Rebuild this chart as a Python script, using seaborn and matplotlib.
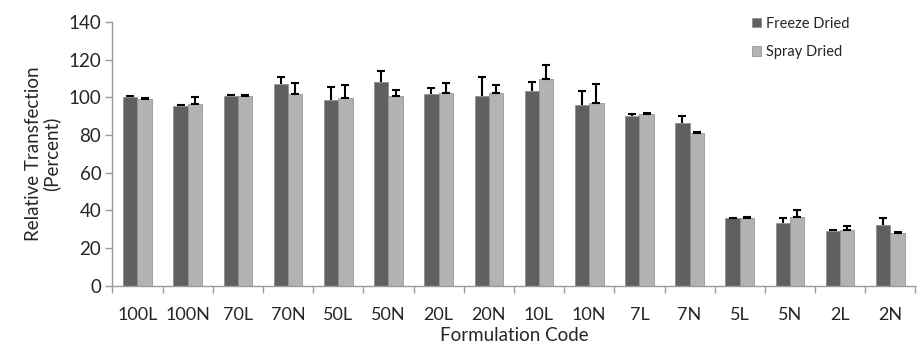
import numpy as np
import pandas as pd
import matplotlib
matplotlib.use("Agg")
import matplotlib.pyplot as plt
import seaborn as sns

# data
codes = ["100L", "100N", "70L", "70N", "50L", "50N", "20L", "20N",
         "10L", "10N", "7L", "7N", "5L", "5N", "2L", "2N"]
freeze = [100.0, 95.4, 100.9, 106.9, 98.4, 108.0, 101.8, 100.9,
          103.5, 95.8, 89.9, 86.2, 35.8, 33.5, 29.2, 32.4]
freeze_err = [0.9, 0.7, 0.2, 3.9, 7.1, 5.8, 3.3, 9.9,
              4.6, 7.6, 1.3, 3.9, 0.2, 2.6, 0.3, 3.4]
spray = [98.9, 96.3, 100.9, 101.9, 99.5, 100.5, 102.3, 102.1,
         109.6, 96.8, 91.3, 81.1, 35.9, 36.8, 29.6, 28.1]
spray_err = [0.5, 3.9, 0.5, 5.7, 6.9, 3.4, 5.5, 4.6,
             7.4, 10.1, 0.5, 0.3, 0.9, 3.2, 2.4, 0.6]
groups = ["Freeze Dried", "Spray Dried"]
colors = ["#606060", "#b3b3b3"]

sns.set_style("white")
plt.rcParams["font.family"] = ["Lato", "DejaVu Sans"]

df = pd.DataFrame({
    "code": codes * 2,
    "value": freeze + spray,
    "method": [groups[0]] * len(codes) + [groups[1]] * len(codes),
})

fig = plt.figure(figsize=(9.21, 3.47), dpi=100)
ax = fig.add_axes([0.122, 0.176, 0.872, 0.761])

sns.barplot(data=df, x="code", y="value", hue="method", palette=colors,
            errorbar=None, width=0.57, ax=ax, saturation=1,
            edgecolor="#8a8a8a", linewidth=0.5)

# error bars (plus direction only), placed on seaborn's bars
errs = [freeze_err, spray_err]
vals = [freeze, spray]
bar_sets = list(ax.containers)
for k, cont in enumerate(bar_sets):
    xs = [p.get_x() + p.get_width() / 2 for p in cont.patches]
    e = np.array(errs[k])
    _, caps, _ = ax.errorbar(xs, vals[k], yerr=[np.zeros_like(e), e],
                             fmt="none", ecolor="black", elinewidth=1.5,
                             capsize=2.9, capthick=1.5)
    if k == 0:
        caps[0].set_visible(False)

ax.set_ylim(0, 140)
ax.set_yticks(range(0, 141, 20))
ax.set_xlim(-0.5, len(codes) - 0.5)

# excel-like category ticks at group boundaries
ax.set_xticks(np.arange(-0.5, len(codes), 1.0))
ax.set_xticklabels([])
ax.set_xticks(np.arange(len(codes)), minor=True)
ax.set_xticklabels(codes, minor=True, fontsize=13)
ax.tick_params(axis="x", which="major", length=5, width=1, color="#9a9a9a",
               direction="out", bottom=True)
ax.tick_params(axis="x", which="minor", length=0, pad=15)
ax.tick_params(axis="y", length=5, width=1, color="#9a9a9a",
               direction="out", left=True, labelsize=13.5, pad=3)

for s in ["top", "right"]:
    ax.spines[s].set_visible(False)
for s in ["left", "bottom"]:
    ax.spines[s].set_color("#9a9a9a")
    ax.spines[s].set_linewidth(1)

ax.set_xlabel("Formulation Code", fontsize=13.5, labelpad=3)
ax.set_ylabel("Relative Transfection\n(Percent)", fontsize=13.5, labelpad=6,
              linespacing=1.0)

ax.legend(loc="upper left", bbox_to_anchor=(0.78, 1.07), frameon=False,
          fontsize=10.5, handlelength=0.6, handleheight=0.6,
          handletextpad=0.35, labelspacing=1.0)

fig.savefig("out.png", dpi=100)
